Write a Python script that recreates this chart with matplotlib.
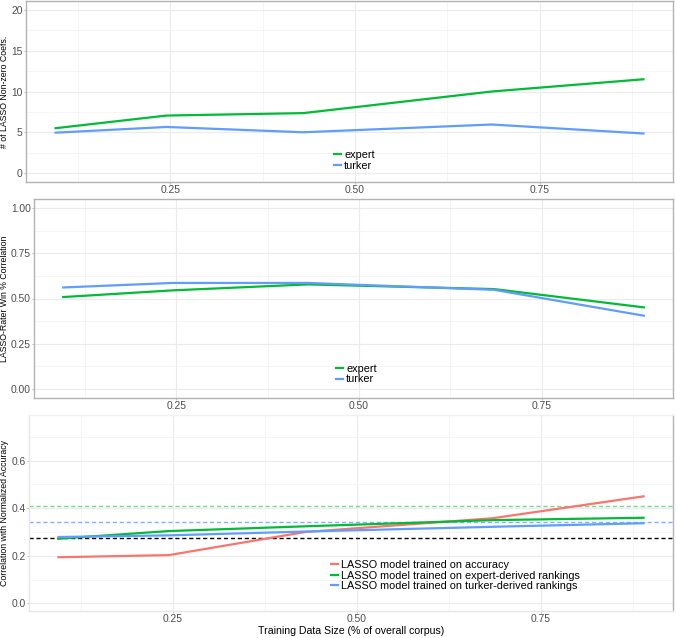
import numpy as np
import matplotlib
matplotlib.use("Agg")
import matplotlib.pyplot as plt
from matplotlib.ticker import MultipleLocator

plt.rcParams['font.family'] = ['Liberation Sans', 'DejaVu Sans']

# dados
tamanho = [0.095, 0.245, 0.43, 0.685, 0.89]

coefs_expert = [5.5, 7.05, 7.35, 10.0, 11.5]
coefs_turker = [4.95, 5.65, 5.0, 5.95, 4.85]

win_expert = [0.508, 0.545, 0.578, 0.552, 0.451]
win_turker = [0.561, 0.586, 0.586, 0.548, 0.405]

acc_accuracy = [0.194, 0.203, 0.30, 0.358, 0.45]
acc_expert = [0.272, 0.304, 0.324, 0.35, 0.36]
acc_turker = [0.279, 0.286, 0.302, 0.322, 0.337]

ref_expert = 0.41
ref_turker = 0.341
ref_base = 0.276

verde = '#00BA38'
azul = '#619CFF'
vermelho = '#F8766D'
cinza_txt = '#4d4d4d'
grade = '#ebebeb'

fig = plt.figure(figsize=(6.76, 6.38), dpi=100)
ax1 = fig.add_axes([26/676, 1-182/638, (673-26)/676, 181/638])
ax2 = fig.add_axes([34/676, 1-398/638, (673-34)/676, 199/638])
ax3 = fig.add_axes([29/676, 1-611/638, (673-29)/676, 196/638])


def estilo(ax, borda='#b3b3b3'):
    ax.set_xlim(0.055, 0.93)
    ax.xaxis.set_minor_locator(MultipleLocator(0.125))
    ax.set_xticks([0.25, 0.5, 0.75])
    ax.set_xticklabels(['0.25', '0.50', '0.75'])
    ax.grid(which='major', color=grade, lw=0.8)
    ax.grid(which='minor', color='#f4f4f4', lw=0.6)
    ax.set_axisbelow(True)
    ax.tick_params(which='major', labelsize=7.4, colors='#b3b3b3', labelcolor=cinza_txt,
                   length=1.6, width=0.6, pad=0.8)
    ax.tick_params(which='minor', length=0)
    for s in ax.spines.values():
        s.set_color(borda)
        s.set_linewidth(1.0)


def legenda(ax, x, y):
    ax.legend(loc='center left', bbox_to_anchor=(x, y), frameon=False, fontsize=7.8,
              handlelength=0.6, handletextpad=0.3, labelspacing=0.05, borderaxespad=0)


# painel 1
ax1.plot(tamanho, coefs_expert, color=verde, lw=1.6, label='expert')
ax1.plot(tamanho, coefs_turker, color=azul, lw=1.6, label='turker')
estilo(ax1)
ax1.set_ylim(-1.1, 21.1)
ax1.set_yticks([0, 5, 10, 15, 20])
ax1.yaxis.set_minor_locator(MultipleLocator(2.5))
ax1.set_ylabel('# of LASSO Non-zero Coefs.', fontsize=6.3)
ax1.yaxis.set_label_coords(-17/647, 0.5)
legenda(ax1, 304/647, 0.12)

# painel 2
ax2.plot(tamanho, win_expert, color=verde, lw=1.6, label='expert')
ax2.plot(tamanho, win_turker, color=azul, lw=1.6, label='turker')
estilo(ax2)
ax2.set_ylim(-0.05, 1.05)
ax2.set_yticks([0, 0.25, 0.5, 0.75, 1.0])
ax2.set_yticklabels(['0.00', '0.25', '0.50', '0.75', '1.00'])
ax2.yaxis.set_minor_locator(MultipleLocator(0.125))
ax2.set_ylabel('LASSO-Rater Win % Correlation', fontsize=6.3)
ax2.yaxis.set_label_coords(-25/639, 0.5)
legenda(ax2, 298/639, 0.12)

# painel 3
ax3.axhline(ref_expert, color=verde, lw=1.0, ls=(0, (3, 2)), alpha=0.55)
ax3.axhline(ref_turker, color=azul, lw=1.0, ls=(0, (3, 2)), alpha=0.8)
ax3.axhline(ref_base, color='black', lw=1.0, ls=(0, (3, 2)))
ax3.plot(tamanho, acc_accuracy, color=vermelho, lw=1.6, label='LASSO model trained on accuracy')
ax3.plot(tamanho, acc_expert, color=verde, lw=1.6, label='LASSO model trained on expert-derived rankings')
ax3.plot(tamanho, acc_turker, color=azul, lw=1.6, label='LASSO model trained on turker-derived rankings')
estilo(ax3, borda='#e6e6e6')
ax3.spines['right'].set_color('#b3b3b3')
ax3.spines['top'].set_color('#f0f0f0')
ax3.set_ylim(-0.032, 0.792)
ax3.set_yticks([0, 0.2, 0.4, 0.6])
ax3.set_yticklabels(['0.0', '0.2', '0.4', '0.6'])
ax3.yaxis.set_minor_locator(MultipleLocator(0.1))
ax3.set_ylabel('Correlation with Normalized Accuracy', fontsize=6.3)
ax3.yaxis.set_label_coords(-20/644, 0.5)
ax3.set_xlabel('Training Data Size (% of overall corpus)', fontsize=7.6, labelpad=1.5)
legenda(ax3, 298/644, 0.18)

fig.savefig('out.png', dpi=100)
